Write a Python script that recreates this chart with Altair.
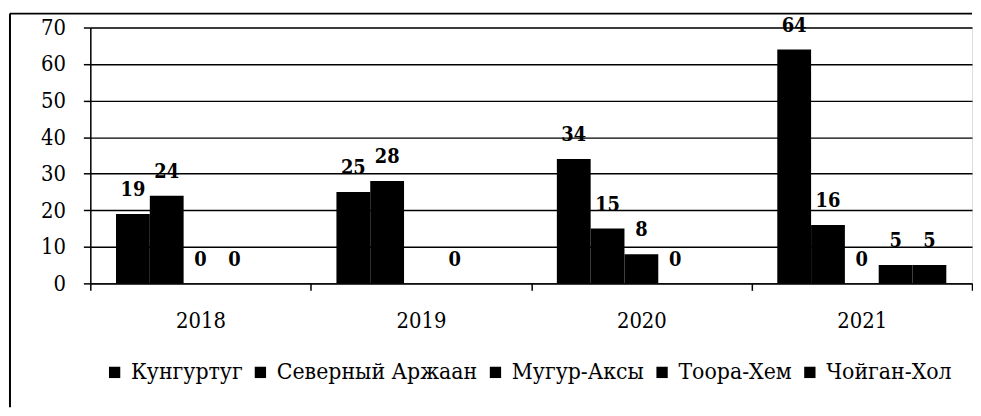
import altair as alt
import pandas as pd

years = ["2018", "2019", "2020", "2021"]
series = ["Кунгуртуг", "Северный Аржаан", "Мугур-Аксы", "Тоора-Хем", "Чойган-Хол"]
kungurtug = [19, 25, 34, 64]
severny_arzhaan = [24, 28, 15, 16]
mugur_aksy = [0, None, 8, 0]
toora_khem = [0, 0, 0, 5]
choygan_khol = [None, None, None, 5]

values_by_series = [kungurtug, severny_arzhaan, mugur_aksy, toora_khem, choygan_khol]
rows = []
for s, vals in zip(series, values_by_series):
    for yr, v in zip(years, vals):
        if v is not None:
            rows.append({"year": yr, "series": s, "value": v})
df = pd.DataFrame(rows)

FONT = "DejaVu Serif Condensed"

x_enc = alt.X(
    "year:N",
    sort=years,
    scale=alt.Scale(paddingInner=0, paddingOuter=0),
    axis=alt.Axis(
        title=None, labelAngle=0, tickBand="extent", tickSize=7, tickColor="black",
        tickWidth=1.5, domainColor="black", domainWidth=1.5, labelPadding=20,
        labelFont=FONT, labelFontSize=22, labelColor="black", grid=False,
    ),
)
xoff_enc = alt.XOffset(
    "series:N",
    scale=alt.Scale(domain=series, paddingInner=0, paddingOuter=0.76),
)
y_enc = alt.Y(
    "value:Q",
    scale=alt.Scale(domain=[0, 70], nice=False),
    axis=alt.Axis(
        title=None, values=[0, 10, 20, 30, 40, 50, 60, 70], grid=True,
        labelOverlap=False, tickCount=8,
        gridColor="black", gridWidth=1.4, gridOpacity=1, tickSize=7,
        tickColor="black", tickWidth=1.5, domainColor="black", domainWidth=1.5,
        labelPadding=18, labelFont=FONT, labelFontSize=22, labelColor="black",
    ),
)

bars = alt.Chart(df).mark_bar(color="black").encode(
    x=x_enc,
    xOffset=xoff_enc,
    y=y_enc,
    color=alt.Color(
        "series:N",
        scale=alt.Scale(domain=series, range=["black"] * 5),
        legend=alt.Legend(
            title=None, orient="none", legendX=13, legendY=336,
            direction="horizontal", symbolType="square", symbolSize=130,
            symbolStrokeWidth=0, labelFont=FONT, labelFontSize=23, labelLimit=400,
            labelColor="black", columnPadding=6, labelOffset=5,
        ),
    ),
)

labels = alt.Chart(df).mark_text(
    dy=-24, baseline="middle", font=FONT, fontWeight="bold", fontSize=20, color="black"
).encode(
    x=x_enc,
    xOffset=xoff_enc,
    y=y_enc,
    text=alt.Text("value:Q"),
)

frame_data = alt.Data(values=[{"k": 1}])
frame_top = alt.Chart(frame_data).mark_rule(color="black", strokeWidth=2).encode(
    x=alt.value(-81), x2=alt.value(889), y=alt.value(-14)
)
frame_left = alt.Chart(frame_data).mark_rule(color="black", strokeWidth=2).encode(
    x=alt.value(-81), y=alt.value(-14), y2=alt.value(383)
)

chart = alt.layer(bars, labels, frame_top, frame_left).properties(
    width=889, height=258,
    padding={"left": 1, "top": 3, "right": 0, "bottom": 0},
).configure_view(stroke=None).configure(background="white")

chart.save("out.html", embed_options={"renderer": "svg", "actions": False})
